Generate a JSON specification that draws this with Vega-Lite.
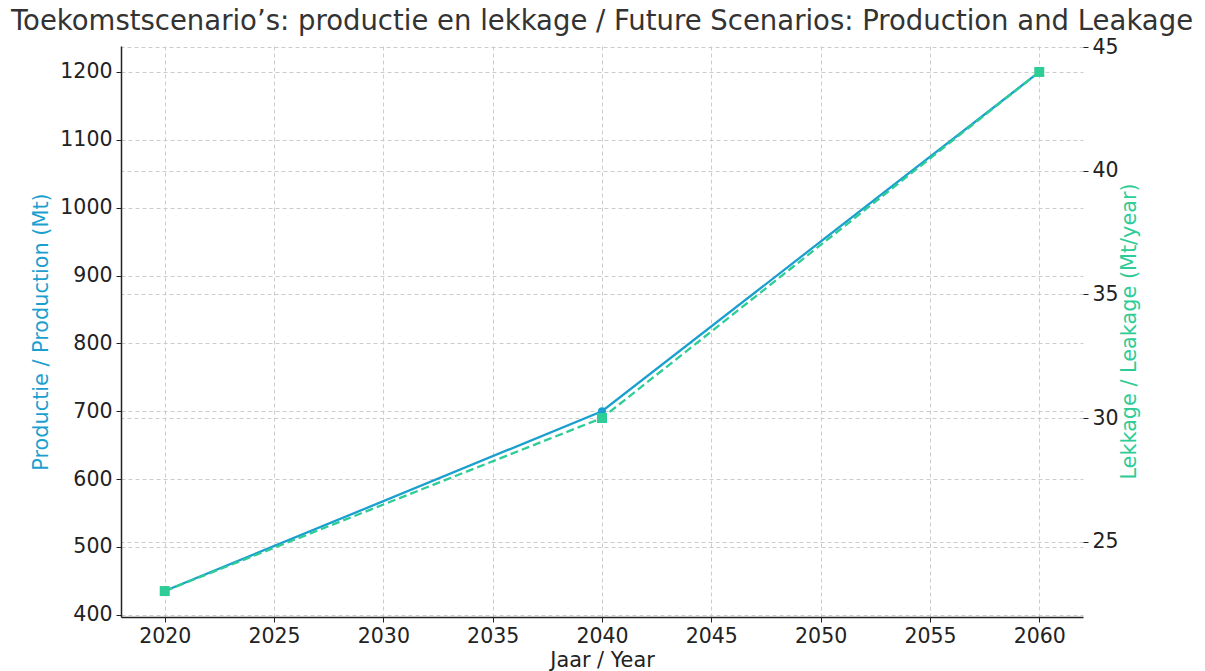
{
  "$schema": "https://vega.github.io/schema/vega-lite/v6.json",
  "width": 962,
  "height": 571,
  "autosize": "none",
  "padding": {"left": 121, "top": 46, "right": 122, "bottom": 54},
  "background": "white",
  "title": {
    "text": "Toekomstscenario’s: productie en lekkage / Future Scenarios: Production and Leakage",
    "font": "DejaVu Sans",
    "fontSize": 27.5,
    "fontWeight": "normal",
    "color": "#333333",
    "anchor": "middle",
    "offset": 2
  },
  "config": {
    "view": {"stroke": null},
    "font": "DejaVu Sans",
    "axis": {
      "labelFont": "DejaVu Sans",
      "titleFont": "DejaVu Sans",
      "labelFontSize": 20.5,
      "titleFontSize": 20.8,
      "titleFontWeight": "normal",
      "labelColor": "#222222",
      "tickColor": "#222222",
      "tickSize": 5,
      "gridColor": "#cccccc",
      "gridDash": [4, 3],
      "gridWidth": 1
    }
  },
  "data": {
    "values": [
      {"year": 2020, "production": 435, "leakage": 23},
      {"year": 2040, "production": 700, "leakage": 30},
      {"year": 2060, "production": 1200, "leakage": 44}
    ]
  },
  "encoding": {
    "x": {
      "field": "year",
      "type": "quantitative",
      "scale": {"domain": [2018, 2062], "nice": false, "zero": false},
      "axis": {
        "title": "Jaar / Year",
        "values": [2020, 2025, 2030, 2035, 2040, 2045, 2050, 2055, 2060],
        "format": "d",
        "grid": true,
        "domainColor": "#222222",
        "domainWidth": 1.5,
        "titleColor": "#222222",
        "labelPadding": 4,
        "titlePadding": 4
      }
    }
  },
  "layer": [
    {
      "encoding": {
        "y": {
          "field": "production",
          "type": "quantitative",
          "scale": {"domain": [396.75, 1238.25], "nice": false, "zero": false},
          "axis": {
            "orient": "left",
            "title": "Productie / Production (Mt)",
            "titleColor": "#1a9fcf",
            "values": [400, 500, 600, 700, 800, 900, 1000, 1100, 1200],
            "format": "d",
            "grid": true,
            "domainColor": "#222222",
            "domainWidth": 1.5,
            "labelPadding": 4,
            "titlePadding": 8
          }
        }
      },
      "layer": [
        {"mark": {"type": "line", "color": "#1a9fcf", "strokeWidth": 2.3}},
        {"mark": {"type": "point", "shape": "circle", "filled": true, "opacity": 1, "color": "#1a9fcf", "size": 64}}
      ]
    },
    {
      "encoding": {
        "y": {
          "field": "leakage",
          "type": "quantitative",
          "scale": {"domain": [21.95, 45.05], "nice": false, "zero": false},
          "axis": {
            "orient": "right",
            "title": "Lekkage / Leakage (Mt/year)",
            "titleColor": "#2ecc96",
            "titleAngle": 270,
            "titleX": 46,
            "titleY": 285,
            "titleBaseline": "middle",
            "titleAlign": "center",
            "values": [25, 30, 35, 40, 45],
            "format": "d",
            "grid": true,
            "domain": false,
            "labelPadding": 4
          }
        }
      },
      "layer": [
        {"mark": {"type": "line", "color": "#2ecc96", "strokeWidth": 2.3, "strokeDash": [8, 4]}},
        {"mark": {"type": "point", "shape": "square", "filled": true, "opacity": 1, "color": "#2ecc96", "size": 100}}
      ]
    }
  ],
  "resolve": {"scale": {"y": "independent"}}
}
